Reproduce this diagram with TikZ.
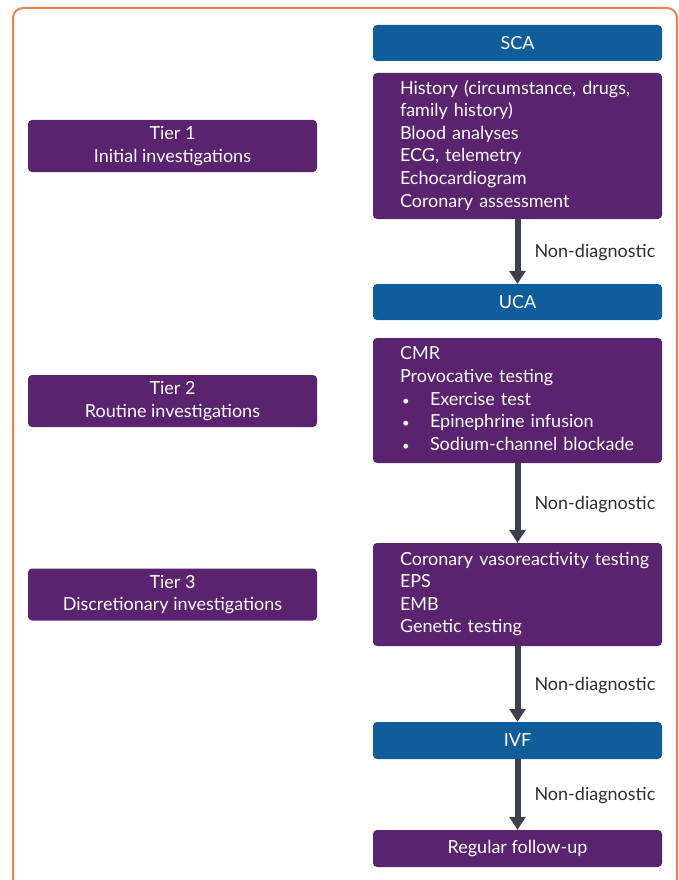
\documentclass[tikz,border=0pt]{standalone}
\usepackage{fontspec}
\setmainfont{Lato}
\usetikzlibrary{arrows.meta}
\definecolor{bblue}{RGB}{15,94,155}
\definecolor{bpurple}{RGB}{90,35,112}
\definecolor{border}{RGB}{232,131,80}
\definecolor{arrgray}{RGB}{60,64,74}
\definecolor{labgray}{RGB}{45,45,50}
\tikzset{
  base/.style={rounded corners=4pt, inner sep=0pt, text=white, font=\fontsize{18}{22.6}\selectfont, minimum width=289pt},
  bluebox/.style={base, fill=bblue},
  purplebox/.style={base, fill=bpurple},
  listbox/.style={purplebox, text width=289pt, align=left},
  tierbox/.style={purplebox, align=center, minimum height=52pt},
  flowarrow/.style={draw=arrgray, line width=6pt, -{Triangle[width=16pt,length=13pt]}},
  lab/.style={inner sep=0pt, anchor=west, xshift=14pt, yshift=-1.5pt, text=labgray, font=\fontsize{18}{22.6}\selectfont}
}
\newcommand{\bul}{\makebox[30pt][l]{\hspace{2pt}{\fontsize{13}{13}\selectfont\textbullet}}}
\newenvironment{itemlines}{\begin{tabular}{@{\hspace{27pt}}l@{}}}{\end{tabular}}
\begin{document}
\begin{tikzpicture}[x=1pt,y=-1pt]
\useasboundingbox (0,0) rectangle (679,880);
\clip (0,0) rectangle (679,880);
\draw[border, line width=2pt, rounded corners=10pt] (13,890) -- (13,8) -- (677,8) -- (677,890);

\node[bluebox, minimum height=36pt] (sca) at (517.5,43) {SCA};
\node[listbox, minimum height=146pt] (b1) at (517.5,146) {\begin{itemlines}History (circumstance, drugs,\\ family history)\\ Blood analyses\\ ECG, telemetry\\ Echocardiogram\\ Coronary assessment\end{itemlines}};
\node[bluebox, minimum height=36pt] (uca) at (517.5,302) {UCA};
\node[listbox, minimum height=125pt] (b2) at (517.5,400.5) {\begin{itemlines}CMR\\ Provocative testing\\ \bul Exercise test\\ \bul Epinephrine infusion\\ \bul Sodium-channel blockade\end{itemlines}};
\node[listbox, minimum height=103pt] (b3) at (517.5,594.5) {\begin{itemlines}Coronary vasoreactivity testing\\ EPS\\ EMB\\ Genetic testing\end{itemlines}};
\node[bluebox, minimum height=37pt] (ivf) at (517.5,740.5) {IVF};
\node[purplebox, minimum height=37pt] (rfu) at (517.5,848.5) {Regular follow-up};

\node[tierbox] (t1) at (172.5,146) {Tier 1\\ Initial investigations};
\node[tierbox] (t2) at (172.5,401) {Tier 2\\ Routine investigations};
\node[tierbox] (t3) at (172.5,594.5) {Tier 3\\ Discretionary investigations};

\draw[flowarrow] (b1.south) -- (uca.north) node[lab, midway] (l1) {Non-diagnostic};
\draw[flowarrow] (b2.south) -- (b3.north) node[lab, midway] (l2) {Non-diagnostic};
\draw[flowarrow] (b3.south) -- (ivf.north) node[lab, midway] (l3) {Non-diagnostic};
\draw[flowarrow] (ivf.south) -- (rfu.north) node[lab, midway] (l4) {Non-diagnostic};
\end{tikzpicture}
\end{document}
